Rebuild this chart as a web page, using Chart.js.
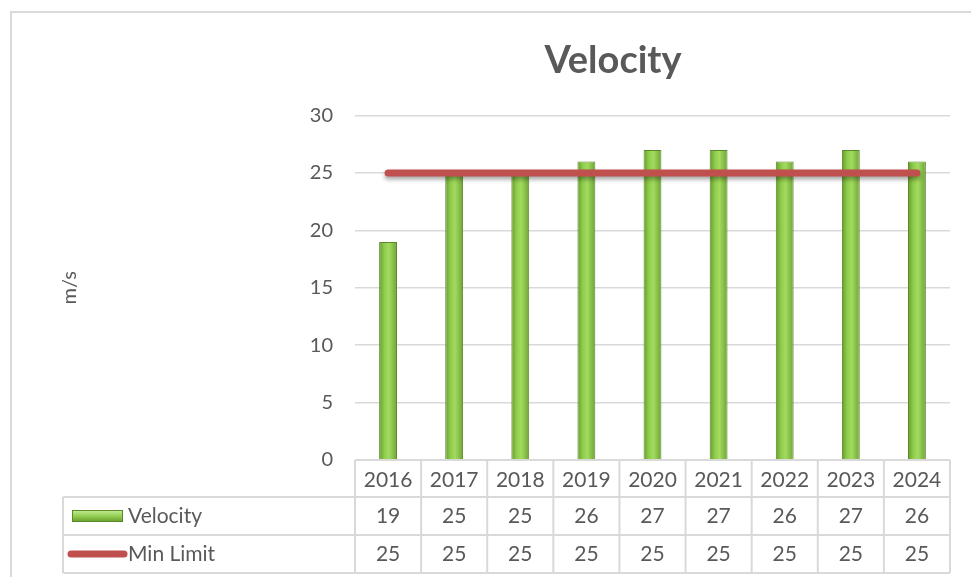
<!DOCTYPE html>
<html>
<head>
<meta charset="utf-8">
<script src="https://cdn.jsdelivr.net/npm/chart.js@4.4.0/dist/chart.umd.min.js"></script>
<style>
  html, body { margin: 0; padding: 0; background: #fff; overflow: hidden; }
  #frame { position: absolute; left: 10px; top: 11px; width: 1300px; height: 800px;
           border: 2px solid #d9d9d9; box-sizing: border-box; }
  #wrap { position: absolute; left: 0; top: 0; width: 971px; height: 577px; }
</style>
</head>
<body>
<div id="frame"></div>
<div id="wrap"><canvas id="chart" width="971" height="577"></canvas></div>
<script>
// ─── Data ─────────────────────────────────────────────────────────────────────
const YEARS      = ['2016', '2017', '2018', '2019', '2020', '2021', '2022', '2023', '2024'];
const VELOCITY   = [19, 25, 25, 26, 27, 27, 26, 27, 26];
const MIN_LIMIT  = [25, 25, 25, 25, 25, 25, 25, 25, 25];
const Y_MAX      = 30;
const Y_STEP     = 5;

const TEXT  = '#595959';
const LINES = '#d9d9d9';
const RED   = '#c0504d';
const FONT  = 'Lato, "Open Sans", sans-serif';

Chart.defaults.font.family = FONT;
Chart.defaults.color = TEXT;

// horizontal gradient so the bars look a bit like Excel's rounded columns
function barFill(ctx) {
  const chart = ctx.chart;
  const xs = chart.scales.x;
  if (!chart.chartArea || !xs) return '#8cc63f';
  const cx = xs.getPixelForValue(ctx.dataIndex);
  const g = chart.ctx.createLinearGradient(cx - 9, 0, cx + 9, 0);
  g.addColorStop(0, '#679a2c');
  g.addColorStop(0.3, '#8fcd4c');
  g.addColorStop(0.55, '#a2db60');
  g.addColorStop(1, '#6ea334');
  return g;
}

// shadow under the limit line
const lineShadow = {
  id: 'lineShadow',
  beforeDatasetDraw(chart, args) {
    if (args.index !== 1) return;
    const c = chart.ctx;
    c.save();
    c.shadowColor = 'rgba(0,0,0,0.35)';
    c.shadowBlur = 4;
    c.shadowOffsetY = 3;
  },
  afterDatasetDraw(chart, args) {
    if (args.index !== 1) return;
    chart.ctx.restore();
  }
};

// data table under the plot, plus the y axis title
const dataTable = {
  id: 'dataTable',
  afterDraw(chart) {
    const c = chart.ctx;
    const xs = chart.scales.x;
    const area = chart.chartArea;
    const n = YEARS.length;
    const cw = (xs.right - xs.left) / n;
    const top = area.bottom;
    const hdrB = top + 37;
    const r1B = top + 75;
    const r2B = top + 113;
    const legL = 63;

    c.save();
    c.strokeStyle = LINES;
    c.lineWidth = 2;
    c.beginPath();
    c.moveTo(xs.left, top); c.lineTo(xs.right, top);
    [hdrB, r1B, r2B].forEach(y => { c.moveTo(legL, y); c.lineTo(xs.right, y); });
    for (let i = 0; i <= n; i++) {
      const x = xs.left + i * cw;
      c.moveTo(x, top); c.lineTo(x, r2B);
    }
    c.moveTo(legL, hdrB); c.lineTo(legL, r2B);
    c.stroke();

    c.fillStyle = TEXT;
    c.font = '21px ' + FONT;
    c.textAlign = 'center';
    c.textBaseline = 'middle';
    for (let i = 0; i < n; i++) {
      const cx = xs.getPixelForValue(i);
      c.fillText(String(VELOCITY[i]), cx, (hdrB + r1B) / 2);
      c.fillText(String(MIN_LIMIT[i]), cx, (r1B + r2B) / 2);
    }

    // legend keys
    const ky = (hdrB + r1B) / 2;
    const g = c.createLinearGradient(0, ky - 6, 0, ky + 6);
    g.addColorStop(0, '#c6ee97');
    g.addColorStop(0.5, '#94cf52');
    g.addColorStop(1, '#679a2c');
    c.fillStyle = g;
    c.fillRect(72, ky - 6, 51, 12);
    c.strokeStyle = '#5a8a28';
    c.lineWidth = 1;
    c.strokeRect(72.5, ky - 5.5, 50, 11);

    const ly = (r1B + r2B) / 2;
    c.strokeStyle = RED;
    c.lineWidth = 7;
    c.lineCap = 'round';
    c.beginPath();
    c.moveTo(71, ly); c.lineTo(124, ly);
    c.stroke();

    c.fillStyle = TEXT;
    c.textAlign = 'left';
    c.fillText(chart.data.datasets[0].label, 128, ky);
    c.fillText(chart.data.datasets[1].label, 128, ly);

    // y axis title
    c.font = '20px ' + FONT;
    c.translate(70, (area.top + area.bottom) / 2);
    c.rotate(-Math.PI / 2);
    c.textAlign = 'center';
    c.fillText('m/s', 0, 0);
    c.restore();
  }
};

new Chart(document.getElementById('chart'), {
  type: 'bar',
  data: {
    labels: YEARS,
    datasets: [
      {
        label: 'Velocity',
        data: VELOCITY,
        backgroundColor: barFill,
        borderColor: '#5a8a28',
        borderWidth: 1,
        barPercentage: 0.27,
        categoryPercentage: 1,
        order: 2,
      },
      {
        label: 'Min Limit',
        type: 'line',
        data: MIN_LIMIT,
        borderColor: RED,
        borderWidth: 7,
        borderCapStyle: 'round',
        pointRadius: 0,
        fill: false,
        order: 1,
      },
    ],
  },
  options: {
    responsive: false,
    animation: false,
    layout: { padding: { left: 276, right: 21, top: 0, bottom: 0 } },
    plugins: {
      legend: { display: false },
      tooltip: { enabled: false },
      title: {
        display: true,
        text: 'Velocity',
        color: TEXT,
        font: { size: 38, weight: 'bold', family: FONT },
        padding: { top: 38, bottom: 32 },
      },
    },
    scales: {
      x: {
        offset: true,
        grid: { display: false },
        border: { display: false },
        ticks: { font: { size: 21 }, color: TEXT, padding: 0, maxRotation: 0 },
        afterFit: s => { s.height = 117; },
      },
      y: {
        min: 0,
        max: Y_MAX,
        border: { display: false },
        grid: { color: LINES, lineWidth: 1.5, drawTicks: false },
        ticks: { stepSize: Y_STEP, font: { size: 20 }, color: TEXT, padding: 22 },
        afterFit: s => { s.width = 79; },
      },
    },
  },
  plugins: [lineShadow, dataTable],
});
</script>
</body>
</html>
